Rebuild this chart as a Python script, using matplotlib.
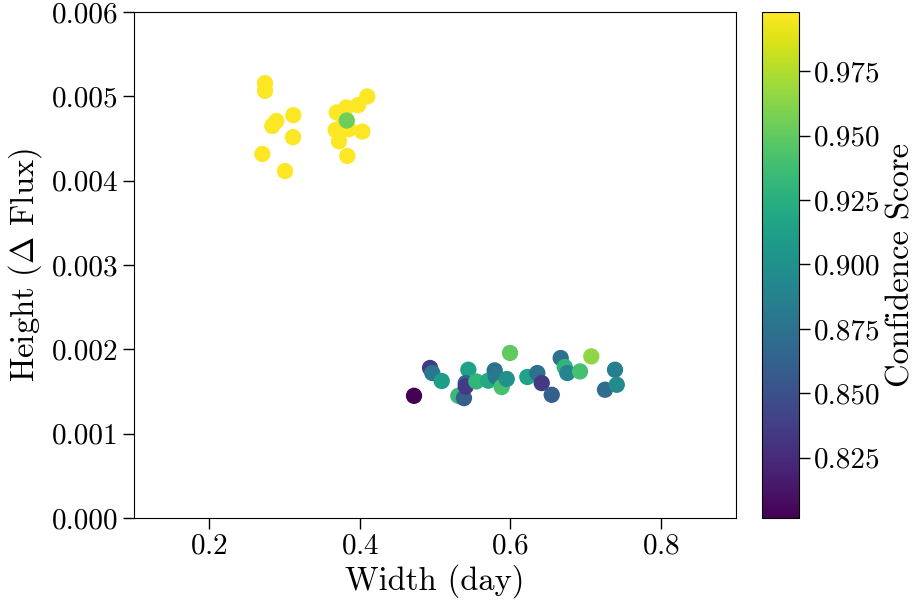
import matplotlib
matplotlib.use("Agg")
import matplotlib.pyplot as plt
import numpy as np

plt.rcParams['font.family'] = 'serif'
plt.rcParams['font.serif'] = ['cmr10']
plt.rcParams['mathtext.fontset'] = 'cm'
plt.rcParams['axes.formatter.use_mathtext'] = True

# Upper cluster (high confidence)
width_top = [0.2741, 0.2741, 0.2891, 0.2838, 0.3117, 0.3113, 0.2705, 0.3007,
             0.4100, 0.3977, 0.3821, 0.3694, 0.3857, 0.3680, 0.4034, 0.3724,
             0.3835, 0.3780, 0.3827]
height_top = [0.005156, 0.005065, 0.004708, 0.004649, 0.004776, 0.004515, 0.004316, 0.004114,
              0.004998, 0.004895, 0.004868, 0.004808, 0.004610, 0.004601, 0.004582, 0.004467,
              0.004293, 0.004650, 0.004713]
score_top = [0.998, 0.997, 0.998, 0.997, 0.998, 0.997, 0.998, 0.998,
             0.998, 0.997, 0.998, 0.997, 0.998, 0.997, 0.998, 0.997,
             0.998, 0.997, 0.955]

# Lower cluster
width_bot = [0.4721, 0.4934, 0.4964, 0.5089, 0.5443, 0.5310, 0.5385, 0.5408,
             0.5408, 0.5549, 0.5708, 0.5793, 0.5807, 0.5886, 0.5953, 0.5997,
             0.6227, 0.6360, 0.6418, 0.6551, 0.6670, 0.6724, 0.6758, 0.6927,
             0.7077, 0.7259, 0.7392, 0.7415]
height_bot = [0.001449, 0.001779, 0.001719, 0.001624, 0.001758, 0.001449, 0.001422, 0.001600,
              0.001560, 0.001619, 0.001628, 0.001750, 0.001679, 0.001553, 0.001648, 0.001957,
              0.001672, 0.001719, 0.001600, 0.001461, 0.001897, 0.001790, 0.001719, 0.001738,
              0.001916, 0.001521, 0.001758, 0.001580]
score_bot = [0.8016, 0.835, 0.880, 0.910, 0.915, 0.935, 0.860, 0.862,
             0.835, 0.930, 0.920, 0.875, 0.880, 0.940, 0.900, 0.950,
             0.915, 0.875, 0.835, 0.860, 0.875, 0.930, 0.890, 0.940,
             0.965, 0.870, 0.885, 0.895]

xticks = [0.2, 0.4, 0.6, 0.8]
yticks = [0.0, 0.001, 0.002, 0.003, 0.004, 0.005, 0.006]
ytick_labels = ['0.000', '0.001', '0.002', '0.003', '0.004', '0.005', '0.006']
cbticks = [0.825, 0.85, 0.875, 0.9, 0.925, 0.95, 0.975]
cbtick_labels = ['0.825', '0.850', '0.875', '0.900', '0.925', '0.950', '0.975']

width = width_top + width_bot
height = height_top + height_bot
score = score_top + score_bot

fig = plt.figure(figsize=(9.16, 6.05), dpi=100)
ax = fig.add_axes([0.1463, 0.1438, 0.6572, 0.8364])
cax = fig.add_axes([0.8319, 0.1438, 0.0404, 0.8364])

sc = ax.scatter(width, height, c=score, cmap='viridis', s=115,
                vmin=min(score), vmax=max(score))
ax.set_xlim(0.1, 0.9)
ax.set_ylim(0, 0.006)
ax.set_xticks(xticks)
ax.set_yticks(yticks)
ax.set_yticklabels(ytick_labels)
ax.tick_params(labelsize=21, length=8, width=1, pad=3)
ax.set_xlabel('Width (day)', fontsize=23.5, labelpad=3)
ax.set_ylabel(r'Height ($\Delta$ Flux)', fontsize=23.5, labelpad=6)

cb = fig.colorbar(sc, cax=cax)
cb.set_ticks(cbticks)
cb.set_ticklabels(cbtick_labels)
cb.ax.tick_params(labelsize=21, length=8, width=1, pad=3)
cb.set_label('Confidence Score', fontsize=23.5, labelpad=4)

fig.savefig('out.png', dpi=100)
